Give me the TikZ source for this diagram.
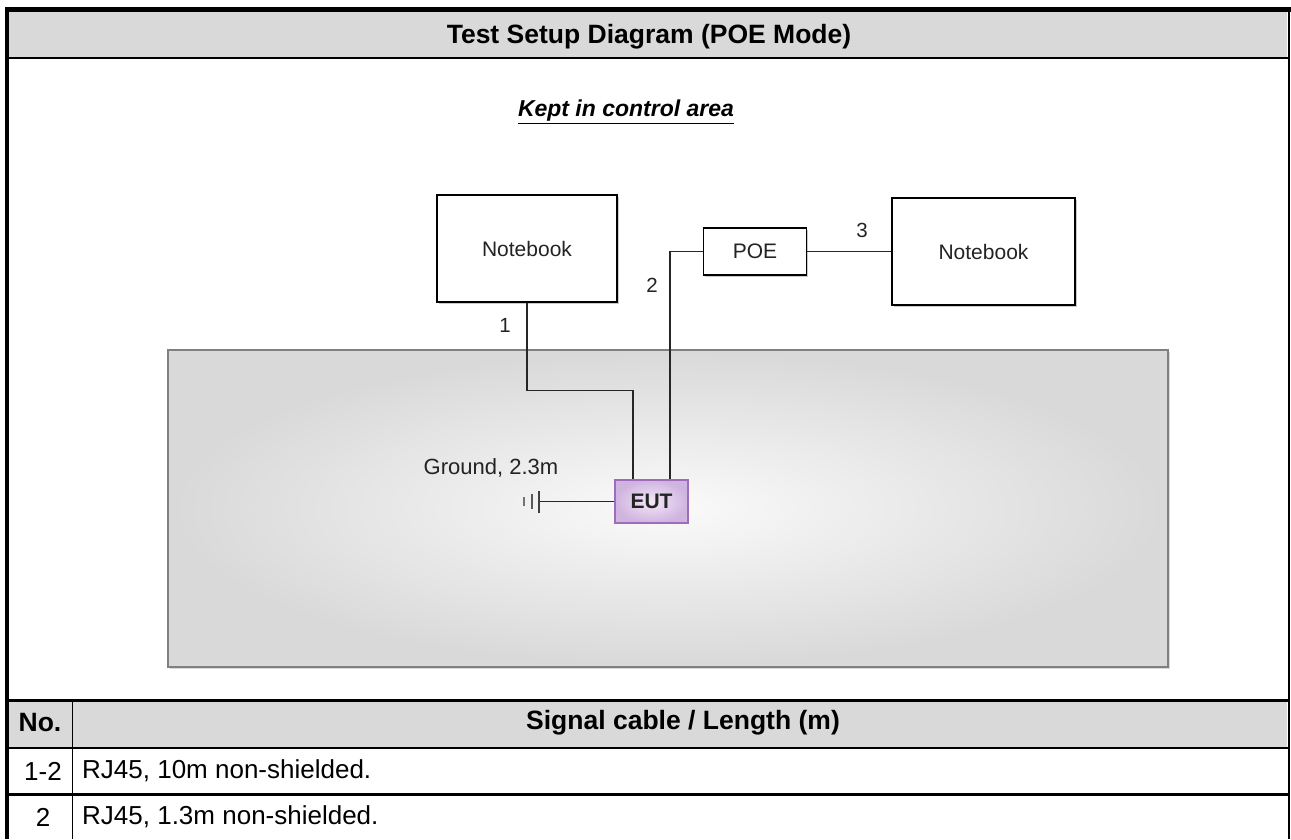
\documentclass[tikz,border=0pt]{standalone}
\usepackage{fontspec}
\setmainfont{Liberation Sans}
\usetikzlibrary{positioning,shadows}

\definecolor{hdrgray}{RGB}{217,217,217}
\definecolor{areaedge}{RGB}{128,128,128}
\definecolor{eutedge}{RGB}{158,108,184}
\definecolor{eutin}{RGB}{242,232,247}
\definecolor{eutout}{RGB}{208,180,224}
\definecolor{labelcol}{RGB}{35,35,35}

\tikzset{
	frame/.style={line width=#1, black},
	box/.style={draw=black, line width=1.3pt, fill=white, text=labelcol, font=\fontsize{21}{24}\selectfont,
		drop shadow={shadow xshift=1.5pt, shadow yshift=-1.5pt, opacity=0.35, fill=black!60}},
	cable/.style={line width=1.5pt, black!85},
	num/.style={text=labelcol, inner sep=0pt, font=\fontsize{20.5}{24}\selectfont},
	cell/.style={inner sep=0pt, font=\fontsize{26}{30}\selectfont},
	head/.style={inner sep=0pt, font=\bfseries\fontsize{26.5}{30}\selectfont},
	area/.style={draw=areaedge, line width=2pt, inner color=white!96!gray, outer color=black!15,
		drop shadow={shadow xshift=2pt, shadow yshift=-2pt, opacity=0.3, fill=black!50}},
	eutbox/.style={draw=eutedge, line width=1.5pt, inner color=eutin, outer color=eutout, text=labelcol, font=\bfseries\fontsize{21}{24}\selectfont},
}

\begin{document}
\begin{tikzpicture}[x=1pt, y=-1pt]
		\useasboundingbox (0,0) rectangle (1291,839);
		% header and table bands
		\fill[hdrgray] (9,12) rectangle (1287,57);
		\fill[hdrgray] (9,701) rectangle (1287,747);
		\draw[frame=5pt] (5,9.5) -- (1291,9.5);
		\draw[frame=4.5pt] (7,7) -- (7,839);
		\draw[frame=2.5pt] (1289,7) -- (1289,839);
		\draw[frame=2.5pt] (7,58) -- (1289,58);
		\draw[frame=2.5pt] (7,700.5) -- (1289,700.5);
		\draw[frame=2pt] (7,747.5) -- (1289,747.5);
		\draw[frame=3pt] (7,794) -- (1289,794);
		\draw[frame=1.5pt] (72.5,700) -- (72.5,839);
		\node[head, anchor=base] (title) at (649,43) {Test Setup Diagram (POE Mode)};
		\node[font=\bfseries\itshape\fontsize{23}{26}\selectfont] (kept) at (626,112) {\underline{Kept in control area}};

		% control area
		\node[area, minimum width=1000pt, minimum height=317pt] (ctrl) at (668,508.5) {};

		% devices
		\node[box, minimum width=180pt, minimum height=107pt] (nb1) at (527,248.5) {Notebook};
		\node[box, minimum width=103pt, minimum height=47pt] (poe) at (755,251.5) {POE};
		\node[box, minimum width=183pt, minimum height=107pt] (nb2) at (983.5,251.5) {Notebook};
		\node[eutbox, minimum width=73pt, minimum height=43pt] (eut) at (651.5,501.5) {EUT};

		% cables
		\draw[cable] (nb1.south) -- ++(0,88) -| ([xshift=-18.5pt]eut.north);
		\draw[cable] (poe.west) -| ([xshift=18.5pt]eut.north);
		\draw[cable] (poe.east) -- (nb2.west);
		\node[num] (n1) at (505,325) {1};
		\node[num] (n2) at (652,285) {2};
		\node[num] (n3) at (862,230) {3};

		% ground
		\coordinate (gnd) at (539,501.5);
		\draw[cable] (eut.west) -- (gnd);
		\draw[line width=2.2pt, black!75] ([yshift=-11pt]gnd) -- ([yshift=11pt]gnd);
		\draw[line width=2.2pt, black!65] ([xshift=-7pt, yshift=-7.5pt]gnd) -- ([xshift=-7pt, yshift=7.5pt]gnd);
		\draw[line width=2.2pt, black!55] ([xshift=-15pt, yshift=-4.5pt]gnd) -- ([xshift=-15pt, yshift=4.5pt]gnd);
		\node[num, font=\fontsize{22}{26}\selectfont] (gndlbl) at (491,468) {Ground, 2.3m};

		% cable table
		\node[head] (no) at (40,723) {No.};
		\node[head] (sig) at (683,723) {Signal cable / Length (m)};
		\node[cell] (r1n) at (43,771) {1-2};
		\node[cell, anchor=west] (r1t) at (82,771) {RJ45, 10m non-shielded.};
		\node[cell] (r2n) at (43,817) {2};
		\node[cell, anchor=west] (r2t) at (82,817) {RJ45, 1.3m non-shielded.};
\end{tikzpicture}
\end{document}
